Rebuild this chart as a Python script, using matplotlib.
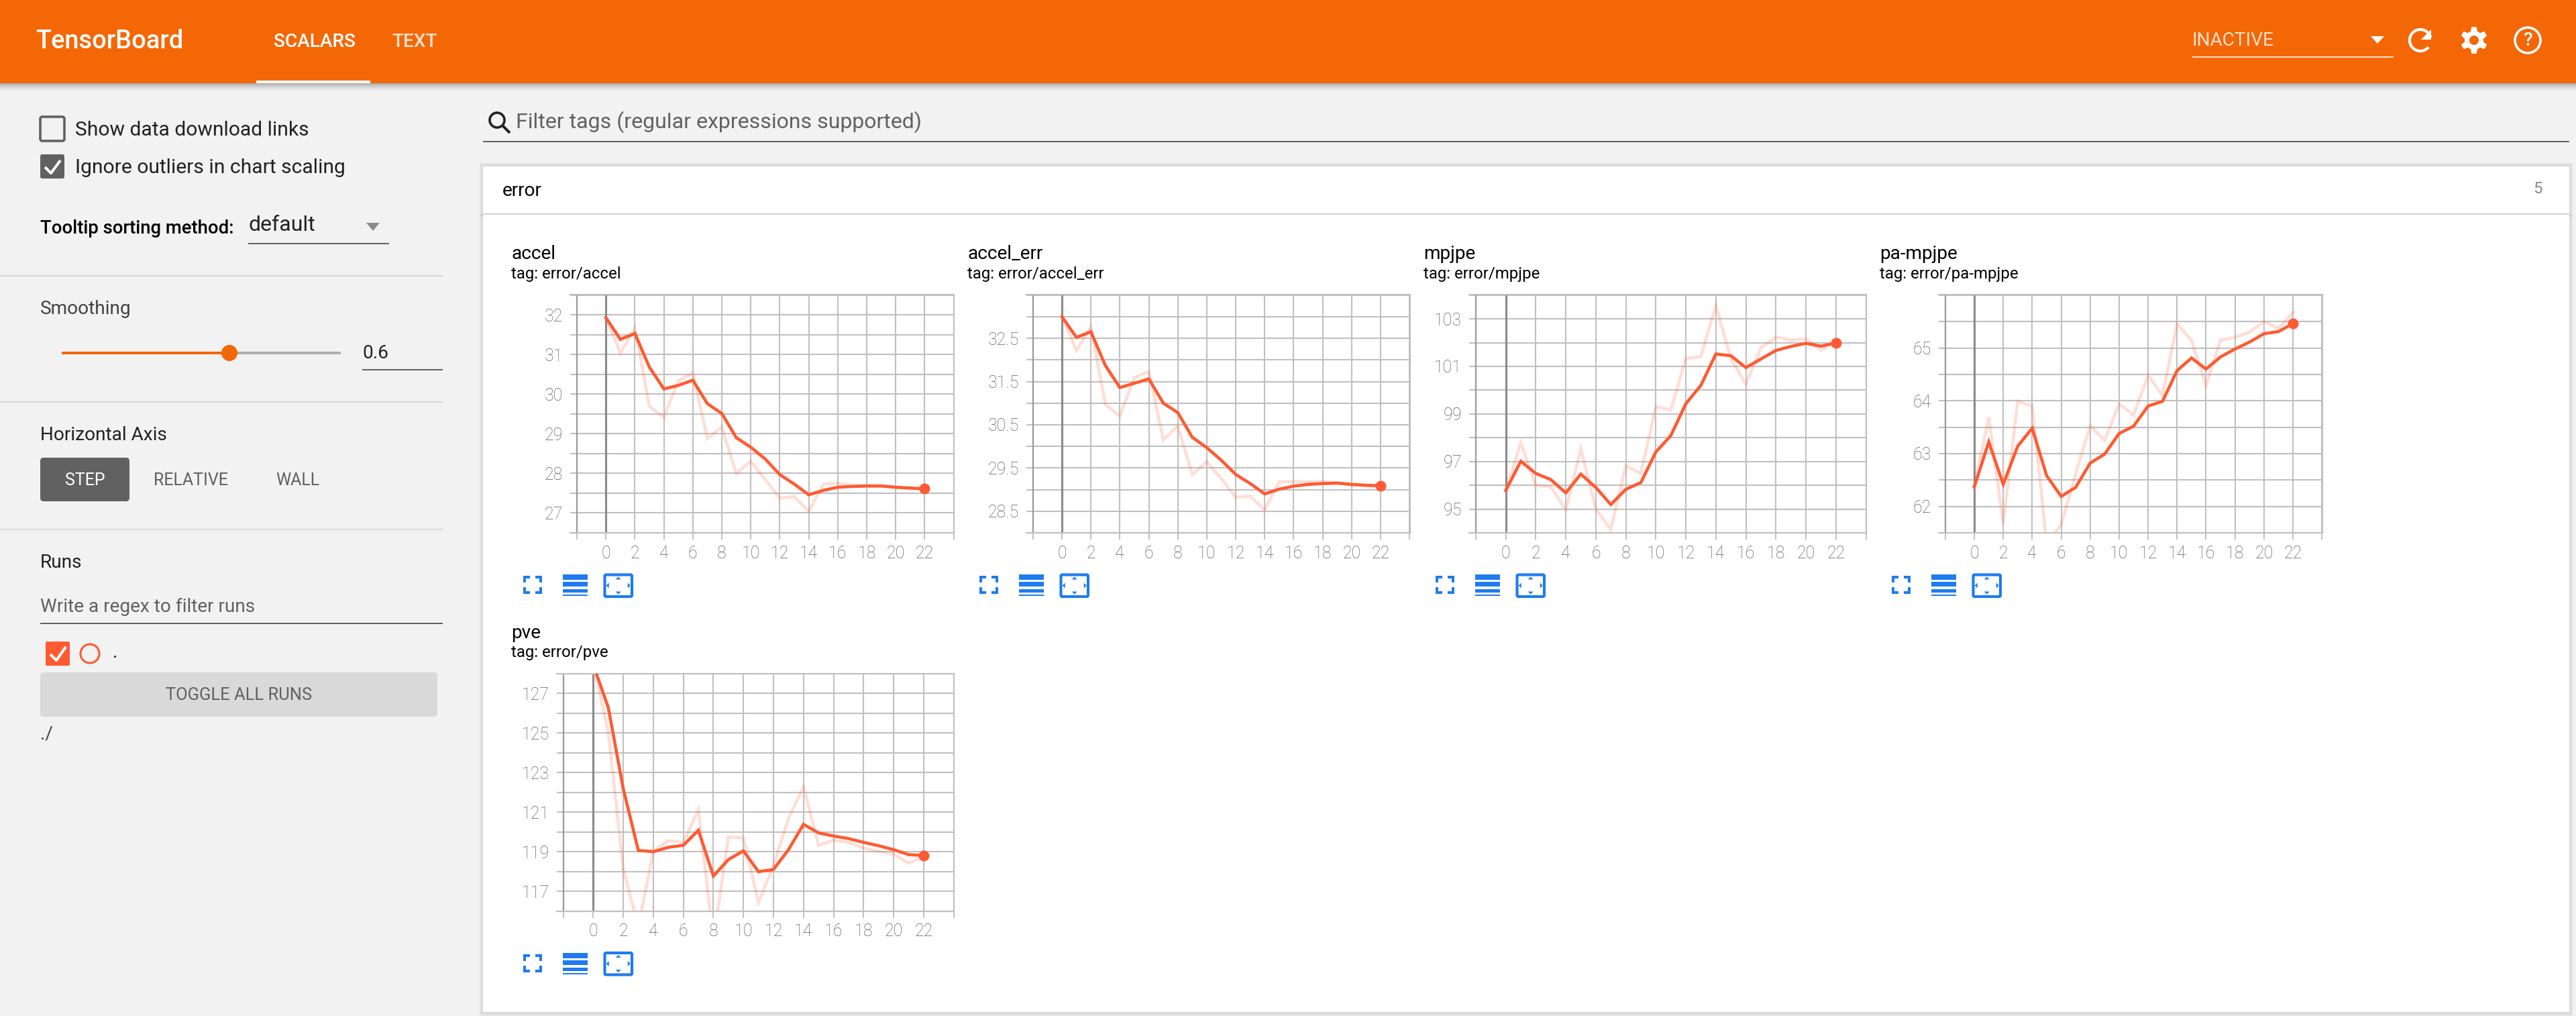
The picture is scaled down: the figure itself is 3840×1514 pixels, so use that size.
import numpy as np
import matplotlib
matplotlib.use("Agg")
import matplotlib.pyplot as plt
from matplotlib.patches import Rectangle, FancyBboxPatch, Circle, Polygon, Arc

plt.rcParams['font.family'] = ['Roboto', 'DejaVu Sans']

STEPS = list(range(23))
X_TICKS = list(range(-2, 25, 2))
X_LABELS = ['' if t < 0 or t > 22 else str(t) for t in X_TICKS]

ACCEL_RAW = [31.93, 31.04, 31.67, 29.69, 29.42, 30.34, 30.53, 28.88, 29.17, 27.99, 28.31, 27.84,
             27.38, 27.41, 27.04, 27.73, 27.75, 27.70, 27.70, 27.70, 27.64, 27.62, 27.61]
ACCEL_SMOOTH = [31.93, 31.38, 31.53, 30.68, 30.13, 30.22, 30.35, 29.76, 29.51, 28.90, 28.66, 28.36,
                27.97, 27.73, 27.46, 27.57, 27.65, 27.67, 27.68, 27.68, 27.65, 27.63, 27.61]
ACCEL_ERR_RAW = [33.00, 32.22, 32.76, 30.97, 30.70, 31.59, 31.73, 30.15, 30.47, 29.35, 29.64, 29.26,
                 28.82, 28.85, 28.53, 29.18, 29.19, 29.18, 29.19, 29.16, 29.11, 29.09, 29.06]
ACCEL_ERR_SMOOTH = [33.00, 32.52, 32.65, 31.87, 31.36, 31.46, 31.56, 31.00, 30.78, 30.21, 29.97, 29.68,
                    29.35, 29.14, 28.90, 29.01, 29.08, 29.12, 29.14, 29.15, 29.12, 29.10, 29.09]
MPJPE_RAW = [95.78, 97.78, 95.99, 95.94, 94.96, 97.53, 95.01, 94.14, 96.81, 96.50, 99.30, 99.17,
             101.33, 101.41, 103.55, 101.33, 100.25, 101.79, 102.23, 102.11, 102.15, 101.69, 102.05]
MPJPE_SMOOTH = [95.78, 97.01, 96.50, 96.24, 95.68, 96.47, 95.91, 95.19, 95.83, 96.11, 97.40, 98.09,
                99.43, 100.20, 101.52, 101.45, 100.95, 101.31, 101.67, 101.84, 101.97, 101.85, 101.99]
PA_MPJPE_RAW = [62.37, 63.69, 61.68, 63.99, 63.90, 61.30, 61.65, 62.62, 63.53, 63.25, 63.94, 63.73,
                64.48, 64.10, 65.46, 65.14, 64.29, 65.15, 65.20, 65.30, 65.50, 65.37, 65.67]
PA_MPJPE_SMOOTH = [62.37, 63.22, 62.42, 63.14, 63.48, 62.58, 62.19, 62.36, 62.82, 62.99, 63.38, 63.52,
                   63.90, 63.99, 64.57, 64.81, 64.60, 64.83, 64.98, 65.11, 65.27, 65.31, 65.46]
PVE_RAW = [128.44, 125.04, 118.12, 115.20, 119.04, 119.56, 119.45, 121.13, 114.50, 119.75, 119.69, 116.43,
           118.30, 120.67, 122.27, 119.32, 119.58, 119.47, 119.19, 119.01, 118.88, 118.42, 118.75]
PVE_SMOOTH = [128.44, 126.28, 122.17, 119.06, 119.00, 119.22, 119.32, 120.08, 117.77, 118.60, 119.04, 117.99,
              118.10, 119.10, 120.38, 119.95, 119.79, 119.66, 119.47, 119.30, 119.10, 118.85, 118.81]

TITLES = ['accel', 'accel_err', 'mpjpe', 'pa-mpjpe', 'pve']
TAGS = ['tag: error/accel', 'tag: error/accel_err', 'tag: error/mpjpe', 'tag: error/pa-mpjpe', 'tag: error/pve']
Y_LABELLED = [[27, 28, 29, 30, 31, 32],
              [28.5, 29.5, 30.5, 31.5, 32.5],
              [95, 97, 99, 101, 103],
              [62, 63, 64, 65],
              [117, 119, 121, 123, 125, 127]]
Y_GRID_STEP = [0.5, 0.5, 1, 0.5, 1]
Y_LIMS = [(26.5, 32.51), (28.0, 33.51), (94, 104.02), (61.5, 66.01), (116, 128.0)]
SERIES = [(ACCEL_RAW, ACCEL_SMOOTH), (ACCEL_ERR_RAW, ACCEL_ERR_SMOOTH), (MPJPE_RAW, MPJPE_SMOOTH),
          (PA_MPJPE_RAW, PA_MPJPE_SMOOTH), (PVE_RAW, PVE_SMOOTH)]

ORANGE = '#f36707'
RED = '#ff5a32'
BLUE = '#1f7bef'
GRID = '#c0c0c0'
W, H = 3840, 1514

fig = plt.figure(figsize=(W / 100, H / 100), dpi=100, facecolor='#f2f2f2')
bg = fig.add_axes([0, 0, 1, 1], zorder=0)
bg.set_xlim(0, W)
bg.set_ylim(H, 0)
bg.axis('off')


def rect(x0, y0, x1, y1, color, alpha=1, z=1):
    bg.add_patch(Rectangle((x0, y0), x1 - x0, y1 - y0, fc=color, ec='none', alpha=alpha, zorder=z))


def rrect(x0, y0, x1, y1, r, fc, ec='none', lw=0, z=2):
    bg.add_patch(FancyBboxPatch((x0 + r, y0 + r), x1 - x0 - 2 * r, y1 - y0 - 2 * r,
                                boxstyle=f'round,pad={r},rounding_size={r}', fc=fc, ec=ec, lw=lw, zorder=z))


def txt(x, y, s, px, color='#212121', ha='left', weight='normal', alpha=1, z=5):
    bg.text(x, y + 2, s, fontsize=px * 0.72, color=color, ha=ha, va='center', weight=weight, alpha=alpha, zorder=z)


def seg(xs, ys, color, lw, z=5, cap='butt'):
    bg.plot(xs, ys, color=color, lw=lw * 0.72, solid_capstyle=cap, zorder=z)


# header
for i in range(12):
    rect(0, 124 + i, W, 125 + i, '#000000', alpha=0.28 * (1 - i / 12) ** 1.5, z=1)
rect(0, 0, W, 124, ORANGE, z=2)
rect(382, 120, 552, 124, 'white', z=3)
txt(53, 60, 'TensorBoard', 38, 'white', weight='medium')
txt(408, 60, 'SCALARS', 28, 'white', weight='medium')
txt(584, 60, 'TEXT', 28, 'white', weight='medium', alpha=0.8)
txt(3268, 58, 'INACTIVE', 28, 'white', alpha=0.8)
rect(3268, 84, 3568, 86, 'white', alpha=0.8, z=3)
bg.add_patch(Polygon([[3534, 54], [3554, 54], [3544, 65]], fc='white', ec='none', zorder=3))
# refresh icon
bg.add_patch(Arc((3608, 60), 32, 32, theta1=40, theta2=345, color='white', lw=3, zorder=3))
bg.add_patch(Polygon([[3624, 44], [3624, 59], [3609, 59]], fc='white', ec='none', zorder=3))
# gear icon
ang = np.linspace(0, 2 * np.pi, 361)
teeth = 17 + 3 * np.clip(2.2 * np.cos(6 * (ang + np.pi / 6)), -1, 1)
bg.add_patch(Polygon(np.c_[3688 + teeth * np.cos(ang), 60 + teeth * np.sin(ang)], fc='white', ec='none', zorder=3))
bg.add_patch(Circle((3688, 60), 7, fc=ORANGE, ec='none', zorder=4))
# help icon
bg.add_patch(Circle((3768, 60), 19, fc='none', ec='white', lw=2.6, zorder=3))
txt(3768, 58, '?', 28, 'white', ha='center', weight='medium')

# sidebar
rrect(60, 174, 96, 210, 3, 'none', ec='#616161', lw=2.6)
txt(112, 192, 'Show data download links', 30, '#212121')
rrect(60, 230, 96, 266, 3, '#616161')
seg([67, 76, 90], [249, 258, 239], 'white', 4)
txt(112, 248, 'Ignore outliers in chart scaling', 30, '#212121')
txt(60, 338, 'Tooltip sorting method:', 27.5, '#000000', weight='medium')
txt(370, 334, 'default', 32, '#212121')
bg.add_patch(Polygon([[546, 332], [566, 332], [556, 344]], fc='#8c8c8c', ec='none', zorder=3))
rect(370, 362, 580, 364, '#616161', z=3)
rect(0, 410, 660, 412, '#d9d9d9', z=3)
txt(60, 459, 'Smoothing', 28, '#424242')
rect(92, 524, 342, 528, ORANGE, z=3)
rect(342, 524, 508, 528, '#b0b0b0', z=3)
bg.add_patch(Circle((342, 526), 12, fc=ORANGE, ec='none', zorder=4))
txt(540, 524, '0.6', 28, '#212121')
rect(540, 550, 660, 552, '#616161', z=3)
rect(0, 598, 660, 600, '#d9d9d9', z=3)
txt(60, 646, 'Horizontal Axis', 28, '#212121')
rrect(60, 682, 193, 747, 5, '#616161')
txt(127, 714, 'STEP', 25, 'white', ha='center')
txt(229, 714, 'RELATIVE', 25, '#616161')
txt(411, 714, 'WALL', 25, '#616161')
rect(0, 788, 660, 790, '#d9d9d9', z=3)
txt(60, 836, 'Runs', 28, '#212121')
txt(60, 902, 'Write a regex to filter runs', 28, '#616161')
rect(60, 928, 660, 930, '#616161', z=3)
rrect(68, 956, 104, 992, 2, RED)
seg([75, 84, 98], [975, 984, 964], 'white', 4)
bg.add_patch(Circle((134, 974), 14, fc='none', ec=RED, lw=2.2, zorder=3))
txt(168, 970, '.', 28, '#212121')
rrect(60, 1002, 652, 1068, 5, '#d9d9d9')
txt(356, 1034, 'TOGGLE ALL RUNS', 25.5, '#616161', ha='center')
txt(60, 1092, './', 28, '#424242')

# filter and cards
bg.add_patch(Circle((741, 179), 11, fc='none', ec='#212121', lw=2.6, zorder=3))
seg([749, 760], [187, 198], '#212121', 4)
txt(769, 180, 'Filter tags (regular expressions supported)', 32, '#616161')
rect(720, 210, 3830, 212, '#616161', z=3)
for i in range(5):
    rect(718 - i, 246 - i, 3832 + i, 320 + i, '#000000', alpha=0.018, z=1)
    rect(718 - i, 320, 3832 + i, 1511 + i, '#000000', alpha=0.018, z=1)
rect(720, 248, 3830, 318, 'white', z=2)
txt(749, 283, 'error', 28, '#000000')
txt(3783, 279, '5', 24, '#8a8a8a', ha='center')
rect(720, 320, 3830, 1508, 'white', z=2)
rect(720, 318, 3830, 320, '#d0d0d0', z=2)

# charts
TITLE_X = [762, 1442, 2122, 2802, 762]
TITLE_Y = [376, 376, 376, 376, 941.5]
TAG_Y = [406.5, 406.5, 406.5, 406.5, 970]
ICON_Y = [855, 855, 855, 855, 1418.5]
AX_BOX = [(850, 439, 1421.6, 794), (1530, 439, 2102, 794), (2190, 439, 2782, 794),
          (2890, 439, 3462, 794), (830, 1003.6, 1421.6, 1357.6)]
X_ZERO = [(903.2, 1378.4), (1583, 2058), (2244.6, 2736.8), (2943, 3418), (884.4, 1377)]

for k, (raw, smooth) in enumerate(SERIES):
    l, t, r, b = AX_BOX[k]
    ax = fig.add_axes([l / W, 1 - b / H, (r - l) / W, (b - t) / H], zorder=3)
    ax.patch.set_alpha(0)
    x0, x22 = X_ZERO[k]
    per = (x22 - x0) / 22
    ax.set_xlim((l - x0) / per, (r - x0) / per)
    ax.set_ylim(*Y_LIMS[k])
    step = Y_GRID_STEP[k]
    lo = Y_LIMS[k][0]
    yt = np.arange(lo, Y_LIMS[k][1], step)
    ax.set_yticks(yt)
    ax.set_yticklabels([(f'{v:g}' if any(abs(v - u) < 1e-6 for u in Y_LABELLED[k]) else '') for v in yt])
    ax.set_xticks(X_TICKS)
    ax.set_xticklabels(X_LABELS)
    ax.tick_params(axis='x', length=7.5, width=1.44, color=GRID, labelsize=18, labelcolor='#5a5a5a', pad=6)
    ax.tick_params(axis='y', length=0, labelsize=18, labelcolor='#5a5a5a', pad=8)
    for lab in ax.get_xticklabels() + ax.get_yticklabels():
        lab.set_fontweight('light')
    ax.grid(True, color=GRID, lw=1.5, zorder=1)
    ax.set_axisbelow(True)
    for s in ['top', 'right', 'bottom']:
        ax.spines[s].set_color(GRID)
        ax.spines[s].set_linewidth(1.6)
    ax.spines['left'].set_visible(False)
    ax.axvline(-2, color='#9a9a9a', lw=1.6, zorder=1.5)
    ax.axvline(0, color='#8a8a8a', lw=2.2, zorder=1.5)
    ax.plot(STEPS, raw, color=RED, alpha=0.2, lw=3.3, solid_joinstyle='miter', zorder=2)
    ax.plot(STEPS, smooth, color=RED, lw=3.3, solid_joinstyle='miter', zorder=3)
    ax.plot(STEPS[-1:], smooth[-1:], 'o', color=RED, ms=11.5, mew=0, clip_on=False, zorder=4)

    tx = TITLE_X[k]
    txt(tx, TITLE_Y[k], TITLES[k], 28, '#000000')
    txt(tx, TAG_Y[k], TAGS[k], 24, '#000000')
    # control icons
    iy = ICON_Y[k]
    ix = tx + 18
    for cx, sx in [(ix, 1), (ix + 28, -1)]:
        for cy, sy in [(iy + 3, 1), (iy + 30, -1)]:
            rect(min(cx, cx + sx * 10), min(cy, cy + sy * 4), max(cx, cx + sx * 10), max(cy, cy + sy * 4), BLUE, z=4)
            rect(min(cx, cx + sx * 4), min(cy, cy + sy * 10), max(cx, cx + sx * 4), max(cy, cy + sy * 10), BLUE, z=4)
    mx = tx + 77
    for y0, y1 in [(iy + 1, iy + 9), (iy + 12, iy + 19), (iy + 23, iy + 28), (iy + 31, iy + 33)]:
        rect(mx, y0, mx + 37, y1, BLUE, z=4)
    fx = tx + 138
    rrect(fx + 1.5, iy + 1.5, fx + 42, iy + 34, 2, 'none', ec=BLUE, lw=3, z=4)
    cxm, cym = fx + 21.7, iy + 17.5
    for pts in [[(-4, -9), (4, -9), (0, -13)], [(-4, 9), (4, 9), (0, 13)],
                [(-14, -4), (-14, 4), (-18, 0)], [(14, -4), (14, 4), (18, 0)]]:
        bg.add_patch(Polygon([(cxm + a, cym + c) for a, c in pts], fc=BLUE, ec='none', zorder=4))

fig.savefig('out.png', dpi=100, facecolor=fig.get_facecolor())
